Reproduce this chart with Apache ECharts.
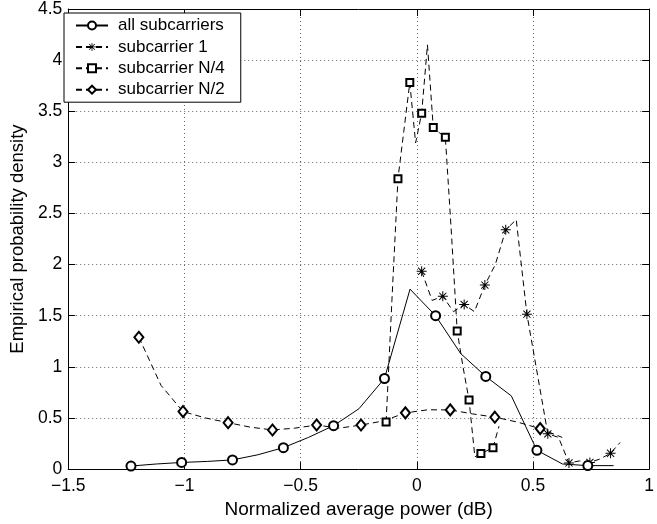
<!DOCTYPE html>
<html>
<head>
<meta charset="utf-8">
<script src="https://cdn.jsdelivr.net/npm/echarts@6/dist/echarts.min.js"></script>
<style>
html,body{margin:0;padding:0;background:#fff;}
#chart{width:657px;height:524px;}
</style>
</head>
<body>
<div id="chart"></div>
<script>
// ---- data ----
const seriesNames = ['all subcarriers', 'subcarrier 1', 'subcarrier N/4', 'subcarrier N/2'];

const allX = [-1.230, -1.121, -1.012, -0.902, -0.793, -0.684, -0.574, -0.466, -0.358, -0.249, -0.139, -0.029, 0.081, 0.189, 0.297, 0.407, 0.517, 0.627, 0.736, 0.847];
const allY = [0.03, 0.05, 0.065, 0.075, 0.09, 0.14, 0.21, 0.31, 0.425, 0.59, 0.886, 1.76, 1.50, 1.13, 0.906, 0.716, 0.184, 0.05, 0.034, 0.034];

const s1X = [0.021, 0.066, 0.112, 0.158, 0.204, 0.248, 0.293, 0.338, 0.383, 0.428, 0.474, 0.519, 0.564, 0.610, 0.655, 0.700, 0.745, 0.790, 0.834, 0.875];
const s1Y = [1.935, 1.65, 1.69, 1.54, 1.61, 1.54, 1.80, 2.0, 2.34, 2.44, 1.515, 0.93, 0.345, 0.31, 0.06, 0.08, 0.065, 0.10, 0.155, 0.26];

const q4X = [-0.132, -0.107, -0.081, -0.056, -0.030, -0.005, 0.021, 0.046, 0.071, 0.097, 0.123, 0.148, 0.174, 0.199, 0.225, 0.250, 0.276, 0.302, 0.328, 0.354];
const q4Y = [0.46, 1.65, 2.84, 3.3, 3.78, 3.19, 3.48, 4.15, 3.34, 3.29, 3.245, 2.35, 1.35, 1.0, 0.675, 0.12, 0.152, 0.18, 0.21, 0.42];

const hX = [-1.196, -1.101, -1.006, -0.909, -0.812, -0.716, -0.621, -0.526, -0.431, -0.335, -0.240, -0.145, -0.049, 0.048, 0.144, 0.240, 0.336, 0.433, 0.531, 0.626];
const hY = [1.29, 0.82, 0.5625, 0.50, 0.454, 0.41, 0.383, 0.40, 0.431, 0.40, 0.431, 0.47, 0.55, 0.58, 0.579, 0.54, 0.508, 0.46, 0.396, 0.31];

const xTicks = [-1.5, -1, -0.5, 0, 0.5, 1];
const yTicks = [0, 0.5, 1, 1.5, 2, 2.5, 3, 3.5, 4, 4.5];

// ---- chart ----
const FONT = "'Liberation Sans', Arial, Helvetica, sans-serif";
const pair = (xs, ys) => xs.map((x, i) => [x, ys[i]]);
const everyOther = size => (v, p) => (p.dataIndex % 2 === 0 ? size : 0);
const asterisk = 'path://M0 9 L20 9 L20 11 L0 11 Z M9 0 L11 0 L11 20 L9 20 Z M2.2 3.6 L3.6 2.2 L17.8 16.4 L16.4 17.8 Z M16.4 2.2 L17.8 3.6 L3.6 17.8 L2.2 16.4 Z';
const fmt = v => String(v).replace('-', '\u2212');

const chart = echarts.init(document.getElementById('chart'), null, {renderer: 'canvas'});

const axisLine = {show: true, onZero: false, lineStyle: {color: '#000', width: 1}};
const axisTick = {show: true, inside: true, length: 7, lineStyle: {color: '#000'}};

chart.setOption({
  animation: false,
  backgroundColor: '#fff',
  grid: {left: 58, right: 2, top: 5.5, bottom: 50.5, containLabel: false},
  legend: {
    orient: 'vertical',
    left: 64, top: 13,
    data: seriesNames,
    itemWidth: 32, itemHeight: 10, itemGap: 4.4,
    padding: [4, 16, 4, 11],
    backgroundColor: '#fff',
    borderColor: '#000', borderWidth: 1, borderRadius: 0,
    textStyle: {fontFamily: FONT, fontSize: 17, color: '#000', lineHeight: 17, padding: [0, 0, 0, 5]},
    selectedMode: false
  },
  xAxis: [
    {
      type: 'value', min: xTicks[0], max: xTicks[xTicks.length - 1], interval: 0.5,
      position: 'bottom', axisLine: axisLine, axisTick: axisTick,
      name: 'Normalized average power (dB)', nameLocation: 'middle', nameGap: 27,
      nameTextStyle: {fontFamily: FONT, fontSize: 19, color: '#000'},
      axisLabel: {fontFamily: FONT, fontSize: 17.5, color: '#000', margin: 8, formatter: fmt},
      splitLine: {show: true, lineStyle: {color: '#666', type: [1, 3], width: 1}}
    },
    {
      type: 'value', min: xTicks[0], max: xTicks[xTicks.length - 1], interval: 0.5,
      position: 'top', axisLine: axisLine, axisTick: axisTick,
      axisLabel: {show: false}, splitLine: {show: false}
    }
  ],
  yAxis: [
    {
      type: 'value', min: yTicks[0], max: yTicks[yTicks.length - 1], interval: 0.5,
      position: 'left', axisLine: axisLine, axisTick: axisTick,
      name: 'Empirical probability density', nameLocation: 'middle', nameGap: 34,
      nameTextStyle: {fontFamily: FONT, fontSize: 18.5, color: '#000'},
      axisLabel: {fontFamily: FONT, fontSize: 17.5, color: '#000', margin: 6, formatter: fmt},
      splitLine: {show: true, lineStyle: {color: '#666', type: [1, 3], width: 1}}
    },
    {
      type: 'value', min: yTicks[0], max: yTicks[yTicks.length - 1], interval: 0.5,
      position: 'right', axisLine: axisLine, axisTick: axisTick,
      axisLabel: {show: false}, splitLine: {show: false}
    }
  ],
  series: [
    {
      name: seriesNames[0], type: 'line', data: pair(allX, allY),
      symbol: 'emptyCircle', symbolSize: everyOther(9),
      lineStyle: {color: '#000', width: 1, type: 'solid'},
      itemStyle: {color: '#000', borderWidth: 1}, z: 5
    },
    {
      name: seriesNames[1], type: 'line', data: pair(s1X, s1Y),
      symbol: asterisk, symbolSize: everyOther(10),
      lineStyle: {color: '#000', width: 1, type: [6, 4]},
      itemStyle: {color: '#000', borderWidth: 0}, z: 4
    },
    {
      name: seriesNames[2], type: 'line', data: pair(q4X, q4Y),
      symbol: 'emptyRect', symbolSize: everyOther(7),
      lineStyle: {color: '#000', width: 1, type: [6, 4]},
      itemStyle: {color: '#000', borderWidth: 1}, z: 3
    },
    {
      name: seriesNames[3], type: 'line', data: pair(hX, hY),
      symbol: 'emptyDiamond', symbolSize: (v, p) => (p.dataIndex % 2 === 0 ? [9, 11] : 0),
      lineStyle: {color: '#000', width: 1, type: [6, 4]},
      itemStyle: {color: '#000', borderWidth: 1}, z: 2
    }
  ]
});
</script>
</body>
</html>
